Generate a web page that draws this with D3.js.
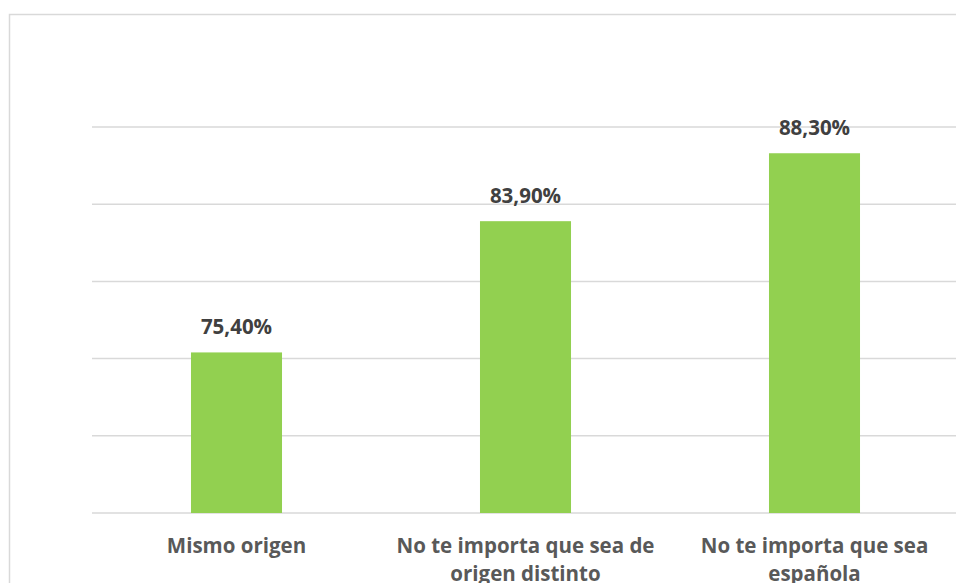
<!DOCTYPE html>
<html>
<head>
<meta charset="utf-8">
<script src="https://cdn.jsdelivr.net/npm/d3@7"></script>
<style>
  body { margin: 0; background: #fff; }
  svg { display: block; }
</style>
</head>
<body>
<div id="chart-container"></div>
<script>
const categories = [
  ['Mismo origen'],
  ['No te importa que sea de', 'origen distinto'],
  ['No te importa que sea', 'española']
]
const values = [75.4, 83.9, 88.3]
const yTicks = [65, 70, 75, 80, 85, 90]

const width = 956
const height = 583
const margin = {left: 92, top: 127, right: -3, bottom: 70}
const barColor = '#92d050'
const gridColor = '#d9d9d9'

const fmt = v => d3.format('.2f')(v).replace('.', ',') + '%'

const svg = d3.select('#chart-container')
  .append('svg')
  .attr('width', width)
  .attr('height', height)

// chart frame, runs off the right and bottom edges
svg.append('rect')
  .attr('x', 9.5)
  .attr('y', 14.5)
  .attr('width', 1000)
  .attr('height', 700)
  .attr('fill', 'none')
  .attr('stroke', gridColor)
  .attr('stroke-width', 1.5)

const x = d3.scaleBand()
  .domain(d3.range(values.length))
  .range([margin.left, width - margin.right])
  .paddingInner(0.685)
  .paddingOuter(0.3425)

const y = d3.scaleLinear()
  .domain([65, 90])
  .range([height - margin.bottom, margin.top])

// gridlines
svg.append('g')
  .selectAll('line')
  .data(yTicks)
  .enter()
  .append('line')
  .attr('x1', margin.left)
  .attr('x2', width)
  .attr('y1', d => y(d))
  .attr('y2', d => y(d))
  .attr('stroke', gridColor)
  .attr('stroke-width', 1.5)

// bars
svg.append('g')
  .selectAll('rect')
  .data(values)
  .enter()
  .append('rect')
  .attr('x', (d, i) => x(i))
  .attr('width', x.bandwidth())
  .attr('y', d => y(d))
  .attr('height', d => y(65) - y(d))
  .attr('fill', barColor)

// value labels
svg.append('g')
  .selectAll('text')
  .data(values)
  .enter()
  .append('text')
  .attr('x', (d, i) => x(i) + x.bandwidth() / 2)
  .attr('y', d => y(d) - 18.5)
  .attr('text-anchor', 'middle')
  .attr('font-family', '"Open Sans", sans-serif')
  .attr('font-weight', 'bold')
  .attr('font-size', 20.5)
  .attr('fill', '#404040')
  .text(d => fmt(d))

// category labels
const cat = svg.append('g')
  .selectAll('text')
  .data(categories)
  .enter()
  .append('text')
  .attr('x', (d, i) => x(i) + x.bandwidth() / 2)
  .attr('y', 553)
  .attr('text-anchor', 'middle')
  .attr('font-family', '"Open Sans", sans-serif')
  .attr('font-weight', 'bold')
  .attr('font-size', 20.5)
  .attr('fill', '#595959')

cat.selectAll('tspan')
  .data(d => d)
  .enter()
  .append('tspan')
  .attr('x', function () { return d3.select(this.parentNode).attr('x') })
  .attr('dy', (d, i) => i === 0 ? 0 : 28)
  .text(d => d)
</script>
</body>
</html>
